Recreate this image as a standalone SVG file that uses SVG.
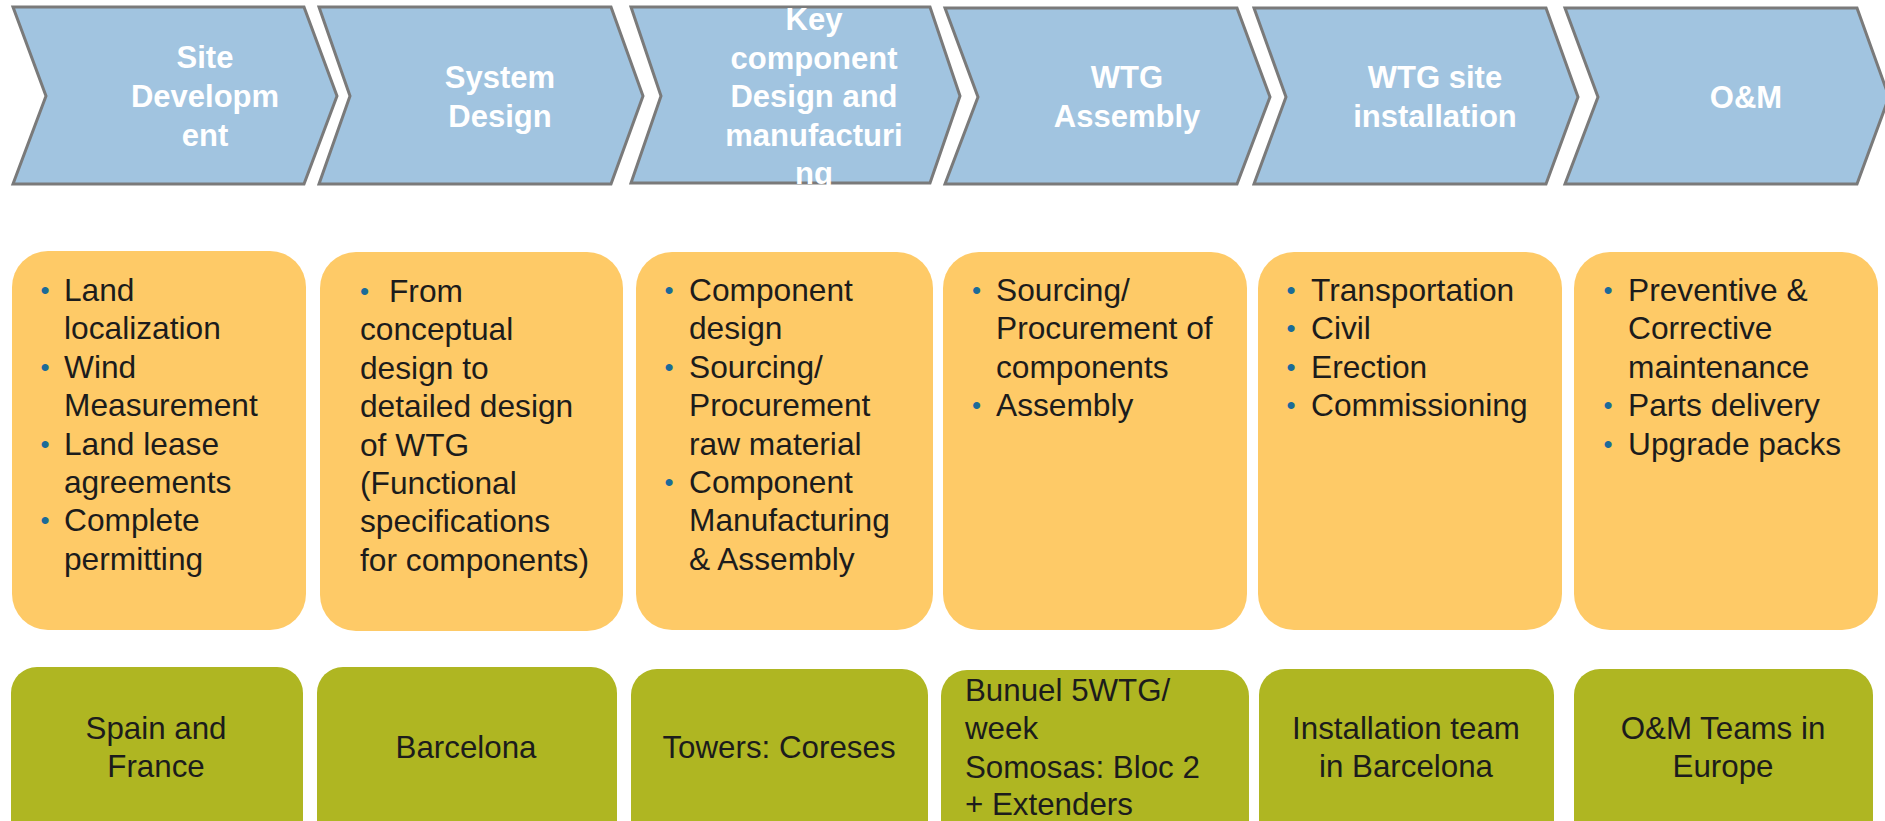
<svg xmlns="http://www.w3.org/2000/svg" width="1885" height="821" viewBox="0 0 1885 821">
<style>
.chev{fill:#A1C4E0;stroke:#7A7A7A;stroke-width:3}
.ct{font-family:"Liberation Sans",Arial,sans-serif;font-weight:bold;font-size:31px;fill:#FFFFFF;text-anchor:middle}
.ob{fill:#FECA67}
.gb{fill:#AFB622}
.bt{font-family:"Liberation Sans",Arial,sans-serif;font-size:31.7px;fill:#1C1C1C}
.bu{fill:#1B6B98;font-size:26px}
.gt{font-family:"Liberation Sans",Arial,sans-serif;font-size:31.3px;fill:#1C1C1C;text-anchor:middle}
.gl{font-family:"Liberation Sans",Arial,sans-serif;font-size:31.3px;fill:#1C1C1C}
</style>
<rect width="1885" height="821" fill="#FFFFFF"/>
<g id="chev1"><polygon class="chev" points="13,7 304,7 337,96 304,184 13,184 46,96"/>
<text class="ct"><tspan x="205" y="68">Site</tspan><tspan x="205" y="107">Developm</tspan><tspan x="205" y="146">ent</tspan></text></g>
<g id="chev2"><polygon class="chev" points="319,7 611,7 643,96 611,184 319,184 350,96"/>
<text class="ct"><tspan x="500" y="88">System</tspan><tspan x="500" y="127">Design</tspan></text></g>
<g id="chev3"><polygon class="chev" points="631,7 930,7 960,96 930,183 631,183 661,96"/>
<text class="ct"><tspan x="814" y="30">Key</tspan><tspan x="814" y="68.5">component</tspan><tspan x="814" y="107">Design and</tspan><tspan x="814" y="145.5">manufacturi</tspan><tspan x="814" y="184">ng</tspan></text></g>
<g id="chev4"><polygon class="chev" points="945,8 1237,8 1270,97 1237,184 945,184 978,97"/>
<text class="ct"><tspan x="1127" y="88">WTG</tspan><tspan x="1127" y="127">Assembly</tspan></text></g>
<g id="chev5"><polygon class="chev" points="1254,8 1546,8 1578,97 1546,184 1254,184 1286,97"/>
<text class="ct"><tspan x="1435" y="88">WTG site</tspan><tspan x="1435" y="127">installation</tspan></text></g>
<g id="chev6"><polygon class="chev" points="1565,8 1857,8 1889,97 1857,184 1565,184 1598,97"/>
<text class="ct"><tspan x="1746" y="108">O&amp;M</tspan></text></g>

<g id="act1"><rect class="ob" x="12" y="251" width="294" height="379" rx="36"/>
<text class="bt"><tspan class="bu" x="40.5" y="299">•</tspan><tspan x="64" y="301">Land</tspan><tspan x="64" y="339.4">localization</tspan><tspan class="bu" x="40.5" y="375.8">•</tspan><tspan x="64" y="377.8">Wind</tspan><tspan x="64" y="416.2">Measurement</tspan><tspan class="bu" x="40.5" y="452.6">•</tspan><tspan x="64" y="454.6">Land lease</tspan><tspan x="64" y="493">agreements</tspan><tspan class="bu" x="40.5" y="529.4">•</tspan><tspan x="64" y="531.4">Complete</tspan><tspan x="64" y="569.8">permitting</tspan></text></g>
<g id="act2"><rect class="ob" x="320" y="252" width="303" height="379" rx="36"/>
<text class="bt"><tspan class="bu" x="360" y="300">•</tspan><tspan x="389" y="302">From</tspan><tspan x="360" y="340.4">conceptual</tspan><tspan x="360" y="378.8">design to</tspan><tspan x="360" y="417.2">detailed design</tspan><tspan x="360" y="455.6">of WTG</tspan><tspan x="360" y="494">(Functional</tspan><tspan x="360" y="532.4">specifications</tspan><tspan x="360" y="570.8">for components)</tspan></text></g>
<g id="act3"><rect class="ob" x="636" y="252" width="297" height="378" rx="36"/>
<text class="bt"><tspan class="bu" x="664.5" y="299">•</tspan><tspan x="689" y="301">Component</tspan><tspan x="689" y="339.4">design</tspan><tspan class="bu" x="664.5" y="375.8">•</tspan><tspan x="689" y="377.8">Sourcing/</tspan><tspan x="689" y="416.2">Procurement</tspan><tspan x="689" y="454.6">raw material</tspan><tspan class="bu" x="664.5" y="491">•</tspan><tspan x="689" y="493">Component</tspan><tspan x="689" y="531.4">Manufacturing</tspan><tspan x="689" y="569.8">&amp; Assembly</tspan></text></g>
<g id="act4"><rect class="ob" x="943" y="252" width="304" height="378" rx="36"/>
<text class="bt"><tspan class="bu" x="972" y="299">•</tspan><tspan x="996" y="301">Sourcing/</tspan><tspan x="996" y="339.4">Procurement of</tspan><tspan x="996" y="377.8">components</tspan><tspan class="bu" x="972" y="414.2">•</tspan><tspan x="996" y="416.2">Assembly</tspan></text></g>
<g id="act5"><rect class="ob" x="1258" y="252" width="304" height="378" rx="36"/>
<text class="bt"><tspan class="bu" x="1286.5" y="299">•</tspan><tspan x="1311" y="301">Transportation</tspan><tspan class="bu" x="1286.5" y="337.4">•</tspan><tspan x="1311" y="339.4">Civil</tspan><tspan class="bu" x="1286.5" y="375.8">•</tspan><tspan x="1311" y="377.8">Erection</tspan><tspan class="bu" x="1286.5" y="414.2">•</tspan><tspan x="1311" y="416.2">Commissioning</tspan></text></g>
<g id="act6"><rect class="ob" x="1574" y="252" width="304" height="378" rx="36"/>
<text class="bt"><tspan class="bu" x="1603.5" y="299">•</tspan><tspan x="1628" y="301">Preventive &amp;</tspan><tspan x="1628" y="339.4">Corrective</tspan><tspan x="1628" y="377.8">maintenance</tspan><tspan class="bu" x="1603.5" y="414.2">•</tspan><tspan x="1628" y="416.2">Parts delivery</tspan><tspan class="bu" x="1603.5" y="452.6">•</tspan><tspan x="1628" y="454.6">Upgrade packs</tspan></text></g>

<g id="loc1"><rect class="gb" x="11" y="667" width="292" height="180" rx="26"/>
<text class="gt"><tspan x="156" y="739">Spain and</tspan><tspan x="156" y="777">France</tspan></text></g>
<g id="loc2"><rect class="gb" x="317" y="667" width="300" height="180" rx="26"/>
<text class="gt"><tspan x="466" y="758">Barcelona</tspan></text></g>
<g id="loc3"><rect class="gb" x="631" y="669" width="297" height="180" rx="26"/>
<text class="gt"><tspan x="779" y="758">Towers: Coreses</tspan></text></g>
<g id="loc4"><rect class="gb" x="941" y="670" width="308" height="180" rx="26"/>
<text class="gl"><tspan x="965" y="700.5">Bunuel 5WTG/</tspan><tspan x="965" y="739">week</tspan><tspan x="965" y="778">Somosas: Bloc 2</tspan><tspan x="965" y="815">+ Extenders</tspan></text></g>
<g id="loc5"><rect class="gb" x="1259" y="669" width="295" height="180" rx="26"/>
<text class="gt"><tspan x="1406" y="739">Installation team</tspan><tspan x="1406" y="777">in Barcelona</tspan></text></g>
<g id="loc6"><rect class="gb" x="1574" y="669" width="299" height="180" rx="26"/>
<text class="gt"><tspan x="1723" y="739">O&amp;M Teams in</tspan><tspan x="1723" y="777">Europe</tspan></text></g>
<g id="connectors"/>
</svg>
